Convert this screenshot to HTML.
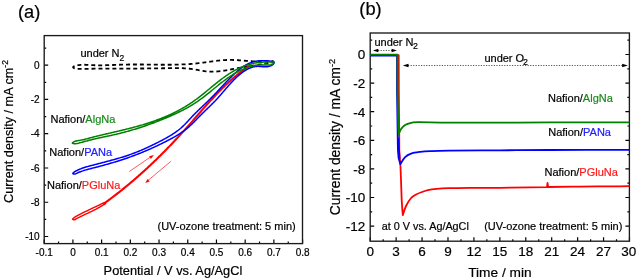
<!DOCTYPE html>
<html><head><meta charset="utf-8"><style>
html,body{margin:0;padding:0;background:#fff;}
svg{display:block;will-change:transform;}
text{font-family:"Liberation Sans", sans-serif;fill:#000;stroke:#000;stroke-width:0.2px;}
.g{fill:#1a8a1a;stroke:#1a8a1a;} .b{fill:#2020ff;stroke:#2020ff;} .r{fill:#ff1a1a;stroke:#ff1a1a;}
</style></head><body>
<svg width="637" height="279" viewBox="0 0 637 279">
<rect width="637" height="279" fill="#fff"/>
<path d="M44.2,65.20h4 M44.2,99.46h4 M44.2,133.72h4 M44.2,167.98h4 M44.2,202.24h4 M44.2,236.50h4 M44.2,48.07h2 M44.2,82.33h2 M44.2,116.59h2 M44.2,150.85h2 M44.2,185.11h2 M44.2,219.37h2 M44.20,243.6v-4 M72.91,243.6v-4 M101.62,243.6v-4 M130.33,243.6v-4 M159.04,243.6v-4 M187.75,243.6v-4 M216.46,243.6v-4 M245.17,243.6v-4 M273.88,243.6v-4 M302.59,243.6v-4 M58.56,243.6v-2 M87.27,243.6v-2 M115.98,243.6v-2 M144.69,243.6v-2 M173.40,243.6v-2 M202.11,243.6v-2 M230.81,243.6v-2 M259.53,243.6v-2 M288.24,243.6v-2" stroke="#000" stroke-width="1.2" fill="none"/>
<rect x="44.2" y="35.6" width="258.30" height="208.00" fill="none" stroke="#1a1a1a" stroke-width="1.35"/>
<text x="39.6" y="68.80" font-size="10" text-anchor="end">0</text>
<text x="39.6" y="103.06" font-size="10" text-anchor="end">-2</text>
<text x="39.6" y="137.32" font-size="10" text-anchor="end">-4</text>
<text x="39.6" y="171.58" font-size="10" text-anchor="end">-6</text>
<text x="39.6" y="205.84" font-size="10" text-anchor="end">-8</text>
<text x="39.6" y="240.10" font-size="10" text-anchor="end">-10</text>
<text x="44.20" y="255.6" font-size="10" text-anchor="middle">-0.1</text>
<text x="72.91" y="255.6" font-size="10" text-anchor="middle">0</text>
<text x="101.62" y="255.6" font-size="10" text-anchor="middle">0.1</text>
<text x="130.33" y="255.6" font-size="10" text-anchor="middle">0.2</text>
<text x="159.04" y="255.6" font-size="10" text-anchor="middle">0.3</text>
<text x="187.75" y="255.6" font-size="10" text-anchor="middle">0.4</text>
<text x="216.46" y="255.6" font-size="10" text-anchor="middle">0.5</text>
<text x="245.17" y="255.6" font-size="10" text-anchor="middle">0.6</text>
<text x="273.88" y="255.6" font-size="10" text-anchor="middle">0.7</text>
<text x="302.59" y="255.6" font-size="10" text-anchor="middle">0.8</text>
<text x="103.6" y="274.5" font-size="12.8">Potential / V vs. Ag/AgCl</text>
<text transform="translate(13.1,203.0) rotate(-90)" font-size="12.7">Current density / mA cm<tspan font-size="8.5" dy="-5">-2</tspan></text>
<text x="17.9" y="18.4" font-size="18.3">(a)</text>
<text x="80.4" y="56.8" font-size="11">under N<tspan font-size="8.5" dy="3.9">2</tspan></text>
<text x="50.5" y="123.3" font-size="11">Nafion/<tspan class="g">AlgNa</tspan></text>
<text x="49.3" y="156.3" font-size="11">Nafion/<tspan class="b">PANa</tspan></text>
<text x="47.0" y="188.6" font-size="11">Nafion/<tspan class="r">PGluNa</tspan></text>
<text x="157.5" y="229.6" font-size="11">(UV-ozone treatment: 5 min)</text>
<path d="M73.14,67.31 L73.19,66.96 L73.49,66.63 L74.01,66.32 L74.69,66.03 L75.51,65.77 L76.41,65.54 L77.35,65.33 L78.29,65.16 L79.21,65.03 L80.11,64.92 L80.98,64.84 L81.83,64.78 L82.67,64.75 L83.49,64.74 L84.29,64.74 L85.09,64.76 L85.87,64.79 L86.65,64.83 L87.41,64.87 L88.18,64.92 L88.94,64.98 L89.70,65.03 L90.46,65.08 L91.23,65.12 L92.00,65.16 L92.77,65.19 L93.54,65.22 L94.31,65.25 L95.09,65.27 L95.87,65.28 L96.65,65.30 L97.43,65.31 L98.22,65.31 L99.00,65.32 L99.79,65.32 L100.58,65.31 L101.37,65.31 L102.16,65.30 L102.96,65.29 L103.75,65.28 L104.55,65.26 L105.35,65.24 L106.15,65.22 L106.95,65.20 L107.75,65.18 L108.56,65.15 L109.36,65.13 L110.16,65.10 L110.97,65.07 L111.78,65.04 L112.58,65.01 L113.39,64.98 L114.20,64.95 L115.01,64.92 L115.82,64.89 L116.63,64.86 L117.43,64.83 L118.24,64.80 L119.05,64.77 L119.86,64.74 L120.67,64.72 L121.48,64.69 L122.29,64.66 L123.10,64.64 L123.91,64.62 L124.72,64.60 L125.53,64.58 L126.34,64.56 L127.14,64.55 L127.95,64.53 L128.76,64.52 L129.56,64.51 L130.37,64.50 L131.17,64.49 L131.98,64.49 L132.78,64.48 L133.59,64.48 L134.39,64.48 L135.19,64.47 L136.00,64.48 L136.80,64.48 L137.60,64.48 L138.40,64.48 L139.21,64.49 L140.01,64.49 L140.81,64.50 L141.61,64.50 L142.41,64.51 L143.21,64.52 L144.01,64.53 L144.81,64.54 L145.61,64.54 L146.41,64.55 L147.21,64.56 L148.01,64.57 L148.81,64.58 L149.60,64.60 L150.40,64.61 L151.20,64.62 L152.00,64.63 L152.79,64.64 L153.59,64.65 L154.39,64.66 L155.19,64.67 L155.98,64.68 L156.78,64.69 L157.58,64.70 L158.37,64.70 L159.17,64.71 L159.97,64.72 L160.76,64.73 L161.56,64.73 L162.36,64.74 L163.15,64.74 L163.95,64.75 L164.74,64.75 L165.54,64.75 L166.33,64.75 L167.13,64.75 L167.93,64.75 L168.72,64.74 L169.52,64.74 L170.31,64.73 L171.11,64.73 L171.91,64.72 L172.70,64.71 L173.50,64.70 L174.29,64.68 L175.09,64.67 L175.89,64.65 L176.68,64.63 L177.48,64.61 L178.27,64.59 L179.07,64.56 L179.87,64.54 L180.66,64.51 L181.46,64.48 L182.26,64.44 L183.05,64.41 L183.85,64.37 L184.65,64.33 L185.45,64.29 L186.24,64.24 L187.04,64.19 L187.84,64.14 L188.64,64.09 L189.44,64.04 L190.24,63.98 L191.03,63.92 L191.83,63.85 L192.63,63.78 L193.43,63.71 L194.23,63.64 L195.03,63.56 L195.83,63.48 L196.63,63.40 L197.43,63.31 L198.24,63.22 L199.04,63.13 L199.84,63.03 L200.64,62.94 L201.44,62.83 L202.25,62.73 L203.05,62.63 L203.85,62.52 L204.65,62.41 L205.46,62.30 L206.26,62.19 L207.06,62.08 L207.86,61.97 L208.66,61.86 L209.46,61.75 L210.27,61.64 L211.07,61.53 L211.87,61.42 L212.67,61.31 L213.47,61.21 L214.27,61.11 L215.07,61.01 L215.86,60.91 L216.66,60.81 L217.46,60.72 L218.26,60.63 L219.05,60.55 L219.85,60.47 L220.64,60.39 L221.43,60.32 L222.22,60.26 L223.02,60.19 L223.81,60.14 L224.60,60.09 L225.38,60.04 L226.17,60.01 L226.96,59.97 L227.74,59.95 L228.53,59.93 L229.31,59.92 L230.09,59.92 L230.87,59.92 L231.65,59.94 L232.43,59.95 L233.21,59.98 L233.98,60.01 L234.76,60.04 L235.54,60.08 L236.32,60.12 L237.10,60.17 L237.88,60.22 L238.66,60.27 L239.44,60.33 L240.22,60.39 L241.00,60.45 L241.79,60.51 L242.58,60.58 L243.37,60.64 L244.16,60.71 L244.95,60.77 L245.75,60.84 L246.55,60.91 L247.35,60.97 L248.15,61.03 L248.96,61.09 L249.77,61.15 L250.59,61.21 L251.41,61.26 L252.23,61.31 L253.06,61.35 L253.89,61.39 L254.72,61.43 L255.56,61.46 L256.41,61.49 L257.26,61.51 L258.12,61.53 L258.98,61.53 L259.85,61.54 L260.72,61.53 L261.60,61.52 L262.49,61.50 L263.38,61.47 L264.28,61.43 L265.18,61.38 L266.10,61.32 L267.01,61.26 L267.91,61.19 L268.79,61.13 L269.63,61.08 L270.42,61.04 L271.14,61.02 L271.77,61.04 L272.31,61.08 L272.74,61.17 L273.04,61.31 L273.20,61.48 L273.18,61.67 L273.00,61.85 L272.66,62.04 L272.19,62.22 L271.60,62.40 L270.90,62.58 L270.12,62.76 L269.27,62.93 L268.37,63.10 L267.43,63.27 L266.48,63.43 L265.52,63.59 L264.58,63.75 L263.66,63.90 L262.74,64.05 L261.84,64.20 L260.95,64.34 L260.07,64.48 L259.21,64.62 L258.35,64.76 L257.51,64.89 L256.67,65.02 L255.84,65.15 L255.02,65.28 L254.21,65.40 L253.41,65.53 L252.61,65.65 L251.82,65.77 L251.04,65.90 L250.26,66.02 L249.49,66.14 L248.72,66.26 L247.95,66.38 L247.19,66.50 L246.43,66.62 L245.67,66.75 L244.92,66.87 L244.17,67.00 L243.41,67.12 L242.66,67.25 L241.90,67.38 L241.15,67.51 L240.39,67.64 L239.64,67.78 L238.88,67.92 L238.11,68.06 L237.35,68.20 L236.58,68.35 L235.80,68.50 L235.03,68.65 L234.25,68.80 L233.47,68.95 L232.68,69.10 L231.89,69.25 L231.10,69.40 L230.31,69.55 L229.52,69.70 L228.72,69.85 L227.93,70.00 L227.13,70.14 L226.33,70.28 L225.52,70.41 L224.72,70.54 L223.92,70.67 L223.11,70.79 L222.31,70.90 L221.50,71.01 L220.69,71.12 L219.89,71.21 L219.08,71.30 L218.27,71.38 L217.47,71.46 L216.66,71.52 L215.85,71.58 L215.05,71.62 L214.25,71.66 L213.44,71.68 L212.64,71.70 L211.84,71.70 L211.04,71.70 L210.24,71.68 L209.44,71.64 L208.65,71.60 L207.86,71.54 L207.06,71.47 L206.28,71.38 L205.49,71.29 L204.70,71.19 L203.92,71.07 L203.13,70.95 L202.35,70.83 L201.57,70.69 L200.78,70.56 L200.00,70.42 L199.22,70.27 L198.44,70.13 L197.66,69.98 L196.88,69.84 L196.09,69.70 L195.31,69.56 L194.53,69.42 L193.74,69.29 L192.95,69.17 L192.17,69.05 L191.38,68.94 L190.59,68.84 L189.80,68.74 L189.00,68.66 L188.21,68.58 L187.41,68.50 L186.61,68.44 L185.82,68.38 L185.02,68.32 L184.22,68.28 L183.42,68.24 L182.61,68.20 L181.81,68.17 L181.01,68.14 L180.20,68.12 L179.40,68.10 L178.59,68.09 L177.79,68.08 L176.98,68.07 L176.17,68.07 L175.37,68.07 L174.56,68.07 L173.75,68.08 L172.94,68.08 L172.14,68.09 L171.33,68.11 L170.52,68.12 L169.71,68.13 L168.91,68.15 L168.10,68.16 L167.29,68.18 L166.48,68.20 L165.68,68.21 L164.87,68.23 L164.07,68.25 L163.26,68.26 L162.46,68.27 L161.65,68.29 L160.85,68.30 L160.05,68.32 L159.25,68.33 L158.44,68.34 L157.64,68.35 L156.84,68.36 L156.04,68.37 L155.24,68.38 L154.44,68.39 L153.64,68.40 L152.84,68.41 L152.04,68.42 L151.24,68.43 L150.44,68.44 L149.65,68.45 L148.85,68.45 L148.05,68.46 L147.25,68.47 L146.46,68.47 L145.66,68.48 L144.86,68.49 L144.07,68.49 L143.27,68.50 L142.48,68.50 L141.68,68.51 L140.88,68.51 L140.09,68.51 L139.29,68.52 L138.50,68.52 L137.70,68.53 L136.91,68.53 L136.11,68.53 L135.32,68.53 L134.52,68.54 L133.73,68.54 L132.93,68.54 L132.14,68.55 L131.34,68.55 L130.55,68.55 L129.75,68.55 L128.96,68.55 L128.16,68.56 L127.37,68.56 L126.57,68.56 L125.78,68.56 L124.98,68.56 L124.19,68.56 L123.39,68.57 L122.59,68.57 L121.80,68.57 L121.00,68.57 L120.21,68.57 L119.41,68.58 L118.61,68.58 L117.82,68.58 L117.02,68.58 L116.22,68.58 L115.42,68.59 L114.63,68.59 L113.83,68.59 L113.03,68.59 L112.23,68.60 L111.43,68.60 L110.63,68.60 L109.83,68.61 L109.03,68.61 L108.23,68.61 L107.43,68.62 L106.63,68.62 L105.83,68.62 L105.02,68.63 L104.22,68.63 L103.42,68.64 L102.61,68.64 L101.81,68.65 L101.01,68.66 L100.20,68.66 L99.40,68.67 L98.59,68.67 L97.78,68.68 L96.98,68.69 L96.17,68.70 L95.36,68.70 L94.55,68.71 L93.74,68.72 L92.93,68.73 L92.12,68.74 L91.31,68.75 L90.50,68.76 L89.68,68.77 L88.87,68.78 L88.06,68.80 L87.24,68.81 L86.42,68.82 L85.61,68.83 L84.79,68.85 L83.97,68.86 L83.15,68.88 L82.34,68.89 L81.52,68.91 L80.69,68.93 L79.87,68.94 L79.05,68.96 L78.23,68.96 L77.43,68.95 L76.64,68.89 L75.87,68.78 L75.14,68.61 L74.44,68.36 L73.83,68.04 L73.37,67.68 Z" stroke="#000" stroke-width="1.8" fill="none" stroke-dasharray="3.972 2.979" stroke-dashoffset="1.986"/>
<path d="M72.50,219.10 C72.50,218.68 73.58,217.93 74.50,217.30 C75.42,216.67 75.75,216.45 78.00,215.30 C80.25,214.15 84.67,212.02 88.00,210.40 C91.33,208.78 95.50,206.80 98.00,205.60 C100.50,204.40 101.75,203.73 103.00,203.20 C104.25,202.67 105.13,202.30 105.50,202.40 C105.87,202.50 105.62,203.33 105.20,203.80 C104.78,204.27 104.20,204.48 103.00,205.20 C101.80,205.92 100.50,206.77 98.00,208.10 C95.50,209.43 91.33,211.58 88.00,213.20 C84.67,214.82 80.25,216.70 78.00,217.80 C75.75,218.90 75.42,219.58 74.50,219.80 C73.58,220.02 72.50,219.52 72.50,219.10Z" stroke="#ff0000" stroke-width="1.45" fill="none"/>
<path d="M104.01,203.51 L104.83,202.92 L105.65,202.32 L106.47,201.73 L107.29,201.13 L108.11,200.53 L108.92,199.93 L109.74,199.33 L110.55,198.72 L111.36,198.11 L112.17,197.51 L112.97,196.90 L113.78,196.28 L114.58,195.67 L115.38,195.06 L116.18,194.44 L116.98,193.82 L117.77,193.20 L118.57,192.58 L119.36,191.95 L120.15,191.33 L120.94,190.70 L121.73,190.07 L122.52,189.44 L123.30,188.81 L124.09,188.17 L124.87,187.54 L125.65,186.90 L126.43,186.26 L127.21,185.62 L127.98,184.98 L128.76,184.34 L129.53,183.69 L130.30,183.04 L131.07,182.39 L131.84,181.74 L132.60,181.09 L133.37,180.44 L134.13,179.78 L134.89,179.13 L135.66,178.47 L136.41,177.81 L137.17,177.15 L137.93,176.49 L138.68,175.82 L139.44,175.15 L140.19,174.49 L140.94,173.82 L141.69,173.15 L142.44,172.48 L143.18,171.80 L143.93,171.13 L144.67,170.45 L145.41,169.77 L146.15,169.09 L146.89,168.41 L147.63,167.73 L148.37,167.05 L149.10,166.36 L149.83,165.68 L150.57,164.99 L151.30,164.30 L152.03,163.61 L152.76,162.91 L153.48,162.22 L154.21,161.53 L154.93,160.83 L155.65,160.13 L156.38,159.43 L157.10,158.73 L157.82,158.03 L158.53,157.33 L159.25,156.62 L159.97,155.92 L160.68,155.21 L161.39,154.50 L162.10,153.79 L162.81,153.08 L163.52,152.36 L164.23,151.65 L164.94,150.94 L165.64,150.22 L166.35,149.50 L167.05,148.78 L167.75,148.06 L168.45,147.34 L169.15,146.62 L169.85,145.89 L170.55,145.17 L171.24,144.44 L171.94,143.71 L172.63,142.98 L173.32,142.25 L174.01,141.52 L174.70,140.79 L175.39,140.05 L176.08,139.32 L176.77,138.58 L177.45,137.84 L178.14,137.10 L178.82,136.36 L179.50,135.62 L180.18,134.88 L180.86,134.13 L181.54,133.39 L182.22,132.64 L182.90,131.90 L183.57,131.15 L184.25,130.40 L184.92,129.65 L185.59,128.90 L186.26,128.14 L186.93,127.39 L187.60,126.64 L188.27,125.88 L188.94,125.12 L189.61,124.37 L190.28,123.61 L190.94,122.85 L191.61,122.09 L192.27,121.33 L192.94,120.57 L193.60,119.81 L194.26,119.05 L194.93,118.29 L195.59,117.53 L196.26,116.77 L196.92,116.01 L197.58,115.24 L198.25,114.48 L198.91,113.72 L199.57,112.96 L200.24,112.20 L200.90,111.44 L201.57,110.68 L202.23,109.93 L202.90,109.17 L203.57,108.41 L204.24,107.66 L204.90,106.90 L205.57,106.15 L206.24,105.40 L206.91,104.64 L207.59,103.89 L208.26,103.14 L208.93,102.40 L209.61,101.65 L210.29,100.90 L210.97,100.16 L211.65,99.42 L212.33,98.68 L213.01,97.94 L213.69,97.21 L214.38,96.47 L215.07,95.74 L215.76,95.01 L216.45,94.28 L217.14,93.56 L217.84,92.83 L218.54,92.11 L219.24,91.39 L219.94,90.68 L220.64,89.96 L221.35,89.25 L222.06,88.54 L222.77,87.84 L223.49,87.14 L224.20,86.44 L224.92,85.74 L225.65,85.05 L226.37,84.36 L227.10,83.67 L227.83,82.99 L228.56,82.31 L229.30,81.63 L230.04,80.96 L230.78,80.29 L231.53,79.63 L232.28,78.96 L233.03,78.31 L233.79,77.65 L234.55,77.00 L235.32,76.36 L236.08,75.72 L236.86,75.08 L237.63,74.45 L238.41,73.82 L239.19,73.19 L239.98,72.57 L240.77,71.96 L241.57,71.35 L242.37,70.74 L243.17,70.14 L243.98,69.55 L244.79,68.95 L245.61,68.37 L246.43,67.79 L247.25,67.21 L248.08,66.64 L248.92,66.08 L249.76,65.52 L250.60,64.96" stroke="#ff0000" stroke-width="2.1" fill="none" stroke-linecap="round"/>
<path d="M250,65.2 C258,63.9 266,63.6 273,62.9" stroke="#ff4040" stroke-width="0.7" fill="none" stroke-dasharray="2 3" opacity="0.8"/>
<path d="M72.90,173.67 L72.96,173.26 L73.29,172.79 L73.81,172.29 L74.46,171.83 L75.19,171.39 L75.95,170.99 L76.72,170.60 L77.49,170.23 L78.26,169.87 L79.02,169.54 L79.79,169.21 L80.55,168.90 L81.31,168.61 L82.07,168.32 L82.83,168.05 L83.59,167.79 L84.35,167.53 L85.11,167.29 L85.87,167.06 L86.63,166.83 L87.39,166.61 L88.15,166.39 L88.91,166.18 L89.67,165.97 L90.43,165.77 L91.19,165.56 L91.96,165.36 L92.72,165.16 L93.49,164.96 L94.26,164.76 L95.02,164.56 L95.79,164.36 L96.56,164.17 L97.33,163.97 L98.10,163.77 L98.88,163.57 L99.65,163.37 L100.42,163.17 L101.20,162.97 L101.97,162.77 L102.75,162.57 L103.53,162.36 L104.30,162.16 L105.08,161.96 L105.86,161.75 L106.63,161.55 L107.41,161.34 L108.19,161.14 L108.97,160.93 L109.74,160.72 L110.52,160.51 L111.30,160.30 L112.07,160.09 L112.85,159.87 L113.63,159.66 L114.40,159.44 L115.18,159.22 L115.95,159.00 L116.73,158.78 L117.50,158.55 L118.28,158.33 L119.05,158.10 L119.82,157.87 L120.59,157.64 L121.36,157.40 L122.13,157.17 L122.90,156.93 L123.67,156.69 L124.44,156.44 L125.20,156.20 L125.97,155.95 L126.73,155.69 L127.49,155.44 L128.25,155.18 L129.01,154.92 L129.77,154.66 L130.52,154.39 L131.28,154.12 L132.03,153.85 L132.78,153.57 L133.53,153.30 L134.28,153.01 L135.02,152.73 L135.77,152.44 L136.51,152.15 L137.25,151.85 L137.99,151.56 L138.73,151.25 L139.47,150.95 L140.20,150.64 L140.94,150.34 L141.67,150.02 L142.41,149.71 L143.14,149.39 L143.87,149.07 L144.59,148.75 L145.32,148.42 L146.05,148.10 L146.78,147.77 L147.50,147.43 L148.22,147.10 L148.95,146.76 L149.67,146.42 L150.39,146.08 L151.11,145.74 L151.83,145.39 L152.55,145.04 L153.27,144.69 L153.99,144.34 L154.71,143.98 L155.42,143.63 L156.14,143.27 L156.86,142.91 L157.57,142.55 L158.29,142.18 L159.00,141.82 L159.72,141.45 L160.43,141.08 L161.15,140.71 L161.86,140.33 L162.57,139.96 L163.29,139.58 L164.00,139.20 L164.71,138.82 L165.41,138.43 L166.12,138.04 L166.82,137.65 L167.52,137.25 L168.22,136.85 L168.92,136.45 L169.61,136.04 L170.30,135.62 L170.99,135.21 L171.67,134.78 L172.35,134.35 L173.02,133.92 L173.69,133.48 L174.36,133.04 L175.02,132.59 L175.68,132.13 L176.33,131.67 L176.97,131.20 L177.61,130.72 L178.25,130.24 L178.88,129.74 L179.50,129.25 L180.11,128.74 L180.72,128.23 L181.32,127.71 L181.92,127.18 L182.51,126.64 L183.09,126.09 L183.66,125.54 L184.23,124.98 L184.80,124.42 L185.35,123.84 L185.91,123.27 L186.46,122.69 L187.01,122.11 L187.56,121.52 L188.10,120.94 L188.64,120.35 L189.19,119.76 L189.73,119.16 L190.27,118.57 L190.81,117.98 L191.36,117.39 L191.90,116.81 L192.45,116.22 L193.00,115.64 L193.55,115.06 L194.11,114.49 L194.66,113.92 L195.23,113.35 L195.79,112.79 L196.36,112.22 L196.93,111.66 L197.50,111.11 L198.07,110.55 L198.64,110.00 L199.22,109.44 L199.80,108.89 L200.37,108.34 L200.95,107.79 L201.53,107.24 L202.11,106.70 L202.69,106.15 L203.27,105.60 L203.85,105.05 L204.44,104.50 L205.01,103.95 L205.59,103.40 L206.17,102.85 L206.75,102.30 L207.32,101.74 L207.90,101.18 L208.47,100.62 L209.04,100.06 L209.61,99.50 L210.18,98.93 L210.74,98.36 L211.31,97.79 L211.87,97.21 L212.43,96.64 L212.99,96.06 L213.55,95.48 L214.10,94.90 L214.66,94.32 L215.21,93.73 L215.77,93.15 L216.32,92.56 L216.87,91.98 L217.42,91.39 L217.97,90.80 L218.52,90.21 L219.07,89.62 L219.62,89.03 L220.17,88.44 L220.72,87.85 L221.27,87.26 L221.82,86.67 L222.37,86.08 L222.92,85.50 L223.47,84.91 L224.02,84.32 L224.57,83.74 L225.12,83.15 L225.68,82.57 L226.23,81.99 L226.79,81.41 L227.35,80.83 L227.90,80.26 L228.46,79.68 L229.02,79.11 L229.59,78.54 L230.15,77.97 L230.72,77.41 L231.29,76.85 L231.86,76.29 L232.43,75.73 L233.00,75.18 L233.58,74.63 L234.16,74.08 L234.74,73.54 L235.33,73.00 L235.91,72.47 L236.50,71.94 L237.10,71.42 L237.70,70.90 L238.30,70.39 L238.91,69.89 L239.52,69.39 L240.13,68.90 L240.76,68.42 L241.38,67.95 L242.02,67.49 L242.66,67.04 L243.30,66.60 L243.96,66.18 L244.62,65.76 L245.28,65.36 L245.96,64.97 L246.64,64.59 L247.33,64.23 L248.03,63.88 L248.74,63.55 L249.45,63.23 L250.18,62.93 L250.92,62.64 L251.66,62.37 L252.42,62.12 L253.18,61.89 L253.96,61.68 L254.74,61.48 L255.54,61.31 L256.35,61.15 L257.17,61.02 L258.01,60.91 L258.85,60.81 L259.71,60.74 L260.57,60.69 L261.43,60.66 L262.30,60.64 L263.17,60.64 L264.03,60.65 L264.89,60.68 L265.75,60.72 L266.59,60.77 L267.42,60.83 L268.24,60.90 L269.04,60.98 L269.82,61.06 L270.58,61.16 L271.31,61.25 L272.02,61.35 L272.70,61.46 L273.31,61.60 L273.79,61.80 L274.09,62.11 L274.16,62.56 L273.99,63.13 L273.61,63.75 L273.08,64.34 L272.42,64.88 L271.67,65.35 L270.86,65.75 L270.02,66.08 L269.18,66.34 L268.34,66.54 L267.50,66.67 L266.66,66.76 L265.81,66.80 L264.98,66.80 L264.14,66.77 L263.31,66.72 L262.48,66.66 L261.65,66.59 L260.83,66.52 L260.01,66.45 L259.20,66.40 L258.39,66.37 L257.60,66.36 L256.80,66.39 L256.02,66.46 L255.24,66.55 L254.47,66.67 L253.71,66.83 L252.95,67.01 L252.20,67.22 L251.46,67.46 L250.72,67.72 L249.99,68.00 L249.27,68.31 L248.56,68.64 L247.85,68.99 L247.15,69.36 L246.45,69.75 L245.77,70.15 L245.09,70.57 L244.42,71.01 L243.75,71.46 L243.09,71.92 L242.44,72.39 L241.79,72.88 L241.16,73.37 L240.52,73.87 L239.90,74.38 L239.28,74.90 L238.67,75.42 L238.07,75.95 L237.47,76.48 L236.88,77.02 L236.29,77.57 L235.71,78.12 L235.13,78.68 L234.56,79.24 L233.99,79.81 L233.43,80.38 L232.87,80.96 L232.32,81.54 L231.77,82.12 L231.22,82.71 L230.67,83.30 L230.13,83.89 L229.60,84.48 L229.06,85.08 L228.53,85.68 L228.00,86.28 L227.47,86.89 L226.94,87.49 L226.41,88.10 L225.89,88.71 L225.37,89.32 L224.84,89.93 L224.32,90.54 L223.80,91.15 L223.28,91.76 L222.76,92.37 L222.23,92.98 L221.71,93.59 L221.19,94.19 L220.66,94.80 L220.14,95.40 L219.61,96.01 L219.08,96.61 L218.55,97.21 L218.01,97.80 L217.48,98.39 L216.94,98.98 L216.40,99.57 L215.85,100.16 L215.31,100.74 L214.75,101.31 L214.20,101.88 L213.64,102.46 L213.08,103.02 L212.52,103.59 L211.96,104.15 L211.39,104.71 L210.83,105.27 L210.26,105.83 L209.69,106.38 L209.12,106.94 L208.54,107.49 L207.97,108.05 L207.40,108.60 L206.82,109.16 L206.25,109.71 L205.68,110.26 L205.10,110.82 L204.53,111.37 L203.96,111.93 L203.39,112.49 L202.82,113.04 L202.25,113.61 L201.68,114.17 L201.11,114.73 L200.55,115.30 L199.99,115.87 L199.43,116.44 L198.87,117.02 L198.31,117.59 L197.75,118.17 L197.19,118.74 L196.64,119.32 L196.08,119.90 L195.52,120.47 L194.96,121.04 L194.39,121.61 L193.83,122.18 L193.26,122.75 L192.69,123.31 L192.12,123.87 L191.54,124.42 L190.96,124.97 L190.38,125.52 L189.79,126.06 L189.20,126.59 L188.60,127.11 L187.99,127.63 L187.38,128.15 L186.76,128.65 L186.14,129.15 L185.51,129.64 L184.88,130.12 L184.24,130.60 L183.60,131.07 L182.95,131.53 L182.29,131.99 L181.63,132.44 L180.97,132.89 L180.30,133.33 L179.63,133.76 L178.96,134.19 L178.28,134.62 L177.60,135.04 L176.91,135.45 L176.22,135.86 L175.53,136.27 L174.83,136.67 L174.14,137.07 L173.44,137.46 L172.73,137.85 L172.03,138.24 L171.32,138.62 L170.62,139.00 L169.91,139.38 L169.20,139.76 L168.48,140.13 L167.77,140.50 L167.06,140.87 L166.34,141.23 L165.63,141.60 L164.91,141.96 L164.19,142.32 L163.48,142.68 L162.76,143.04 L162.04,143.39 L161.32,143.75 L160.60,144.10 L159.88,144.45 L159.16,144.79 L158.44,145.14 L157.72,145.48 L157.00,145.83 L156.28,146.17 L155.55,146.51 L154.83,146.84 L154.10,147.18 L153.38,147.51 L152.65,147.84 L151.92,148.17 L151.20,148.50 L150.47,148.82 L149.74,149.15 L149.01,149.47 L148.28,149.79 L147.55,150.11 L146.81,150.42 L146.08,150.73 L145.34,151.05 L144.61,151.36 L143.87,151.66 L143.13,151.97 L142.40,152.27 L141.66,152.58 L140.92,152.88 L140.18,153.18 L139.43,153.47 L138.69,153.77 L137.95,154.06 L137.20,154.35 L136.45,154.64 L135.71,154.92 L134.96,155.21 L134.21,155.49 L133.46,155.77 L132.70,156.05 L131.95,156.32 L131.19,156.60 L130.44,156.87 L129.68,157.14 L128.92,157.41 L128.17,157.67 L127.41,157.94 L126.64,158.20 L125.88,158.46 L125.12,158.72 L124.36,158.97 L123.59,159.23 L122.83,159.48 L122.06,159.73 L121.29,159.98 L120.53,160.23 L119.76,160.47 L118.99,160.72 L118.22,160.96 L117.45,161.20 L116.68,161.44 L115.91,161.67 L115.14,161.91 L114.37,162.14 L113.60,162.37 L112.83,162.61 L112.06,162.83 L111.29,163.06 L110.52,163.29 L109.75,163.51 L108.97,163.73 L108.20,163.95 L107.43,164.17 L106.66,164.39 L105.89,164.61 L105.12,164.82 L104.34,165.04 L103.57,165.25 L102.80,165.46 L102.03,165.67 L101.26,165.88 L100.49,166.09 L99.73,166.29 L98.96,166.50 L98.19,166.70 L97.42,166.90 L96.65,167.10 L95.89,167.30 L95.12,167.50 L94.36,167.70 L93.59,167.89 L92.83,168.09 L92.07,168.28 L91.31,168.48 L90.55,168.67 L89.79,168.86 L89.02,169.06 L88.26,169.26 L87.50,169.46 L86.74,169.67 L85.97,169.89 L85.20,170.11 L84.43,170.34 L83.66,170.59 L82.88,170.84 L82.10,171.11 L81.32,171.39 L80.53,171.68 L79.74,171.99 L78.94,172.31 L78.13,172.66 L77.32,173.02 L76.52,173.37 L75.73,173.69 L74.98,173.94 L74.28,174.08 L73.64,174.08 L73.15,173.94 Z" stroke="#0000ff" stroke-width="1.5" fill="none"/>
<path d="M72.37,143.16 L72.54,142.77 L73.06,142.31 L73.77,141.88 L74.54,141.51 L75.32,141.21 L76.11,140.98 L76.92,140.80 L77.73,140.65 L78.54,140.52 L79.36,140.40 L80.17,140.27 L80.98,140.13 L81.78,139.98 L82.57,139.82 L83.36,139.65 L84.15,139.47 L84.93,139.28 L85.71,139.08 L86.49,138.88 L87.26,138.68 L88.03,138.47 L88.81,138.26 L89.58,138.05 L90.35,137.85 L91.12,137.64 L91.90,137.44 L92.67,137.24 L93.44,137.04 L94.22,136.84 L94.99,136.64 L95.77,136.45 L96.54,136.25 L97.32,136.06 L98.09,135.87 L98.87,135.68 L99.64,135.49 L100.42,135.30 L101.19,135.12 L101.97,134.93 L102.75,134.75 L103.52,134.56 L104.30,134.38 L105.08,134.20 L105.85,134.01 L106.63,133.83 L107.41,133.65 L108.19,133.47 L108.96,133.29 L109.74,133.11 L110.52,132.93 L111.30,132.75 L112.08,132.57 L112.85,132.39 L113.63,132.21 L114.41,132.03 L115.19,131.85 L115.96,131.67 L116.74,131.49 L117.52,131.31 L118.30,131.13 L119.08,130.95 L119.85,130.77 L120.63,130.58 L121.41,130.40 L122.19,130.21 L122.96,130.03 L123.74,129.84 L124.52,129.65 L125.29,129.46 L126.07,129.27 L126.85,129.08 L127.62,128.88 L128.40,128.69 L129.17,128.49 L129.95,128.30 L130.73,128.10 L131.50,127.90 L132.28,127.69 L133.05,127.49 L133.83,127.28 L134.60,127.07 L135.37,126.86 L136.15,126.65 L136.92,126.43 L137.69,126.22 L138.46,126.00 L139.24,125.78 L140.01,125.56 L140.78,125.33 L141.55,125.10 L142.32,124.88 L143.09,124.64 L143.85,124.41 L144.62,124.17 L145.39,123.94 L146.15,123.70 L146.92,123.45 L147.68,123.21 L148.45,122.96 L149.21,122.71 L149.97,122.46 L150.73,122.20 L151.49,121.94 L152.25,121.68 L153.01,121.42 L153.77,121.15 L154.52,120.89 L155.28,120.62 L156.03,120.34 L156.79,120.07 L157.54,119.79 L158.29,119.50 L159.04,119.22 L159.79,118.93 L160.53,118.64 L161.28,118.35 L162.02,118.05 L162.76,117.75 L163.51,117.45 L164.25,117.14 L164.98,116.83 L165.72,116.52 L166.46,116.21 L167.19,115.89 L167.92,115.57 L168.66,115.24 L169.39,114.91 L170.11,114.58 L170.84,114.25 L171.56,113.91 L172.29,113.57 L173.01,113.23 L173.73,112.88 L174.45,112.53 L175.16,112.17 L175.87,111.81 L176.59,111.45 L177.30,111.08 L178.01,110.71 L178.71,110.34 L179.42,109.96 L180.12,109.58 L180.82,109.20 L181.52,108.81 L182.21,108.42 L182.91,108.03 L183.60,107.63 L184.29,107.22 L184.98,106.82 L185.66,106.40 L186.34,105.99 L187.03,105.57 L187.70,105.15 L188.38,104.72 L189.05,104.29 L189.73,103.85 L190.39,103.41 L191.06,102.97 L191.73,102.52 L192.39,102.07 L193.05,101.61 L193.70,101.15 L194.36,100.69 L195.01,100.22 L195.66,99.74 L196.30,99.27 L196.95,98.79 L197.59,98.30 L198.23,97.82 L198.87,97.33 L199.51,96.84 L200.15,96.34 L200.78,95.85 L201.42,95.35 L202.05,94.85 L202.68,94.34 L203.31,93.84 L203.94,93.33 L204.56,92.82 L205.19,92.31 L205.82,91.80 L206.44,91.29 L207.07,90.78 L207.69,90.27 L208.31,89.76 L208.94,89.24 L209.56,88.73 L210.18,88.22 L210.81,87.70 L211.43,87.19 L212.05,86.68 L212.68,86.17 L213.30,85.66 L213.92,85.15 L214.55,84.64 L215.17,84.14 L215.80,83.63 L216.43,83.13 L217.05,82.63 L217.68,82.13 L218.31,81.63 L218.94,81.14 L219.58,80.65 L220.21,80.16 L220.85,79.67 L221.48,79.19 L222.12,78.71 L222.76,78.24 L223.40,77.76 L224.05,77.30 L224.69,76.83 L225.34,76.37 L225.99,75.92 L226.64,75.47 L227.30,75.02 L227.95,74.58 L228.61,74.14 L229.28,73.71 L229.94,73.28 L230.61,72.86 L231.28,72.45 L231.95,72.04 L232.63,71.64 L233.31,71.24 L234.00,70.85 L234.68,70.46 L235.37,70.09 L236.07,69.72 L236.76,69.35 L237.47,69.00 L238.17,68.65 L238.88,68.31 L239.59,67.97 L240.31,67.65 L241.03,67.33 L241.76,67.02 L242.49,66.72 L243.23,66.43 L243.97,66.14 L244.71,65.87 L245.46,65.60 L246.21,65.34 L246.97,65.09 L247.73,64.85 L248.49,64.62 L249.26,64.40 L250.03,64.19 L250.81,63.99 L251.58,63.80 L252.37,63.61 L253.15,63.44 L253.94,63.28 L254.74,63.12 L255.54,62.98 L256.34,62.84 L257.14,62.72 L257.95,62.61 L258.76,62.51 L259.57,62.41 L260.39,62.33 L261.21,62.26 L262.03,62.20 L262.85,62.15 L263.68,62.11 L264.51,62.09 L265.34,62.07 L266.18,62.07 L267.01,62.07 L267.85,62.08 L268.67,62.09 L269.49,62.10 L270.31,62.11 L271.11,62.11 L271.90,62.11 L272.67,62.10 L273.34,62.12 L273.78,62.25 L273.86,62.57 L273.61,63.03 L273.10,63.55 L272.44,64.06 L271.72,64.47 L270.97,64.77 L270.19,64.97 L269.39,65.08 L268.58,65.12 L267.76,65.12 L266.92,65.08 L266.08,65.02 L265.24,64.96 L264.41,64.91 L263.57,64.89 L262.74,64.87 L261.91,64.88 L261.09,64.90 L260.27,64.94 L259.45,64.99 L258.63,65.06 L257.82,65.14 L257.02,65.24 L256.21,65.35 L255.41,65.48 L254.62,65.62 L253.83,65.78 L253.04,65.94 L252.26,66.12 L251.48,66.31 L250.71,66.52 L249.94,66.73 L249.17,66.96 L248.41,67.20 L247.65,67.44 L246.90,67.70 L246.15,67.97 L245.41,68.25 L244.67,68.54 L243.94,68.83 L243.21,69.14 L242.48,69.45 L241.76,69.78 L241.05,70.11 L240.34,70.45 L239.63,70.79 L238.93,71.15 L238.23,71.51 L237.53,71.88 L236.84,72.26 L236.15,72.64 L235.47,73.03 L234.79,73.43 L234.11,73.83 L233.44,74.24 L232.77,74.66 L232.10,75.08 L231.43,75.51 L230.77,75.94 L230.11,76.38 L229.45,76.82 L228.80,77.27 L228.15,77.72 L227.50,78.18 L226.85,78.64 L226.20,79.11 L225.56,79.58 L224.92,80.05 L224.28,80.53 L223.64,81.01 L223.00,81.49 L222.37,81.98 L221.73,82.47 L221.10,82.96 L220.47,83.46 L219.84,83.95 L219.21,84.45 L218.58,84.95 L217.95,85.46 L217.33,85.96 L216.70,86.47 L216.07,86.97 L215.45,87.48 L214.82,87.99 L214.20,88.50 L213.57,89.01 L212.95,89.52 L212.32,90.03 L211.69,90.54 L211.07,91.05 L210.44,91.56 L209.81,92.07 L209.19,92.57 L208.56,93.08 L207.93,93.58 L207.30,94.09 L206.66,94.59 L206.03,95.09 L205.40,95.59 L204.76,96.08 L204.12,96.57 L203.48,97.06 L202.84,97.55 L202.20,98.04 L201.56,98.52 L200.91,99.00 L200.26,99.47 L199.61,99.94 L198.96,100.41 L198.30,100.87 L197.64,101.33 L196.98,101.78 L196.32,102.23 L195.65,102.68 L194.98,103.12 L194.31,103.55 L193.64,103.98 L192.96,104.41 L192.28,104.83 L191.60,105.25 L190.91,105.66 L190.23,106.07 L189.54,106.48 L188.85,106.88 L188.15,107.28 L187.46,107.67 L186.76,108.06 L186.06,108.45 L185.36,108.83 L184.66,109.21 L183.95,109.58 L183.24,109.96 L182.53,110.32 L181.82,110.69 L181.11,111.05 L180.40,111.41 L179.68,111.76 L178.96,112.12 L178.24,112.47 L177.52,112.81 L176.80,113.16 L176.08,113.50 L175.35,113.84 L174.63,114.17 L173.90,114.50 L173.17,114.83 L172.44,115.16 L171.71,115.49 L170.98,115.81 L170.24,116.13 L169.51,116.45 L168.77,116.77 L168.04,117.08 L167.30,117.39 L166.56,117.70 L165.83,118.01 L165.09,118.32 L164.35,118.62 L163.61,118.93 L162.87,119.23 L162.12,119.53 L161.38,119.83 L160.64,120.13 L159.90,120.42 L159.15,120.71 L158.41,121.01 L157.66,121.30 L156.92,121.58 L156.17,121.87 L155.43,122.16 L154.68,122.44 L153.93,122.72 L153.18,123.00 L152.43,123.28 L151.68,123.55 L150.93,123.83 L150.18,124.10 L149.43,124.37 L148.68,124.64 L147.92,124.91 L147.17,125.17 L146.42,125.44 L145.66,125.70 L144.91,125.96 L144.15,126.22 L143.39,126.47 L142.64,126.73 L141.88,126.98 L141.12,127.23 L140.36,127.48 L139.60,127.73 L138.84,127.97 L138.08,128.21 L137.32,128.45 L136.56,128.69 L135.79,128.93 L135.03,129.16 L134.27,129.40 L133.50,129.63 L132.73,129.86 L131.97,130.08 L131.20,130.31 L130.43,130.53 L129.66,130.75 L128.89,130.97 L128.12,131.19 L127.35,131.40 L126.58,131.61 L125.81,131.82 L125.04,132.03 L124.26,132.24 L123.49,132.44 L122.72,132.64 L121.94,132.84 L121.16,133.04 L120.39,133.23 L119.61,133.43 L118.83,133.62 L118.05,133.81 L117.27,133.99 L116.49,134.18 L115.71,134.36 L114.93,134.54 L114.14,134.72 L113.36,134.89 L112.58,135.07 L111.79,135.24 L111.01,135.41 L110.22,135.58 L109.44,135.75 L108.65,135.92 L107.87,136.09 L107.08,136.25 L106.30,136.42 L105.51,136.59 L104.73,136.75 L103.94,136.92 L103.16,137.09 L102.37,137.25 L101.59,137.42 L100.81,137.59 L100.03,137.76 L99.24,137.93 L98.46,138.10 L97.68,138.27 L96.90,138.44 L96.13,138.62 L95.35,138.80 L94.57,138.97 L93.80,139.16 L93.02,139.34 L92.25,139.53 L91.48,139.71 L90.71,139.90 L89.94,140.10 L89.18,140.30 L88.41,140.50 L87.64,140.70 L86.88,140.90 L86.11,141.11 L85.34,141.32 L84.57,141.53 L83.80,141.74 L83.02,141.96 L82.24,142.17 L81.46,142.39 L80.67,142.61 L79.87,142.82 L79.07,143.04 L78.26,143.24 L77.44,143.42 L76.61,143.57 L75.78,143.68 L74.94,143.73 L74.09,143.72 L73.27,143.63 L72.65,143.45 Z" stroke="#008000" stroke-width="1.5" fill="none"/>
<path d="M129.3,171.5 L150.5,157 M170.8,161.4 L147.8,180.6" stroke="#ff3030" stroke-width="0.8" fill="none"/>
<path d="M153.80,155.10 L150.95,158.93 L149.17,156.27Z" fill="#ff0000"/>
<path d="M145.20,183.10 L147.62,178.98 L149.67,181.43Z" fill="#ff0000"/>
<path d="M370.2,54.50h4 M629.4,54.50h-4 M370.2,83.10h4 M629.4,83.10h-4 M370.2,111.70h4 M629.4,111.70h-4 M370.2,140.30h4 M629.4,140.30h-4 M370.2,168.90h4 M629.4,168.90h-4 M370.2,197.50h4 M629.4,197.50h-4 M370.2,226.10h4 M629.4,226.10h-4 M370.2,40.20h2 M629.4,40.20h-2 M370.2,68.80h2 M629.4,68.80h-2 M370.2,97.40h2 M629.4,97.40h-2 M370.2,126.00h2 M629.4,126.00h-2 M370.2,154.60h2 M629.4,154.60h-2 M370.2,183.20h2 M629.4,183.20h-2 M370.2,211.80h2 M629.4,211.80h-2 M370.20,241.2v-4 M396.13,241.2v-4 M422.06,241.2v-4 M447.99,241.2v-4 M473.92,241.2v-4 M499.85,241.2v-4 M525.77,241.2v-4 M551.70,241.2v-4 M577.63,241.2v-4 M603.56,241.2v-4 M629.49,241.2v-4 M383.16,241.2v-2 M409.09,241.2v-2 M435.02,241.2v-2 M460.95,241.2v-2 M486.88,241.2v-2 M512.81,241.2v-2 M538.74,241.2v-2 M564.67,241.2v-2 M590.60,241.2v-2 M616.53,241.2v-2" stroke="#000" stroke-width="1.2" fill="none"/>
<rect x="370.2" y="33.0" width="259.20" height="208.20" fill="none" stroke="#1a1a1a" stroke-width="1.35"/>
<text x="365.2" y="59.30" font-size="13.5" text-anchor="end">0</text>
<text x="365.2" y="87.90" font-size="13.5" text-anchor="end">-2</text>
<text x="365.2" y="116.50" font-size="13.5" text-anchor="end">-4</text>
<text x="365.2" y="145.10" font-size="13.5" text-anchor="end">-6</text>
<text x="365.2" y="173.70" font-size="13.5" text-anchor="end">-8</text>
<text x="365.2" y="202.30" font-size="13.5" text-anchor="end">-10</text>
<text x="365.2" y="230.90" font-size="13.5" text-anchor="end">-12</text>
<text x="370.20" y="256.3" font-size="13.5" text-anchor="middle">0</text>
<text x="396.13" y="256.3" font-size="13.5" text-anchor="middle">3</text>
<text x="422.06" y="256.3" font-size="13.5" text-anchor="middle">6</text>
<text x="447.99" y="256.3" font-size="13.5" text-anchor="middle">9</text>
<text x="473.92" y="256.3" font-size="13.5" text-anchor="middle">12</text>
<text x="499.85" y="256.3" font-size="13.5" text-anchor="middle">15</text>
<text x="525.77" y="256.3" font-size="13.5" text-anchor="middle">18</text>
<text x="551.70" y="256.3" font-size="13.5" text-anchor="middle">21</text>
<text x="577.63" y="256.3" font-size="13.5" text-anchor="middle">24</text>
<text x="603.56" y="256.3" font-size="13.5" text-anchor="middle">27</text>
<text x="628.79" y="256.3" font-size="13.5" text-anchor="middle">30</text>
<text x="468.2" y="277.3" font-size="13.7">Time / min</text>
<text transform="translate(340.4,215.3) rotate(-90)" font-size="13.9">Current density / mA cm<tspan font-size="9.2" dy="-5.5">-2</tspan></text>
<text x="359.3" y="14.5" font-size="18.3">(b)</text>
<text x="374.4" y="46.2" font-size="11">under N<tspan font-size="8.8" dx="-0.5" dy="2.8">2</tspan></text>
<text x="484.4" y="61.8" font-size="11">under O<tspan font-size="8.8" dx="-1.2" dy="3.3">2</tspan></text>
<text x="548.0" y="102.1" font-size="11">Nafion/<tspan class="g">AlgNa</tspan></text>
<text x="548.2" y="135.7" font-size="11">Nafion/<tspan class="b">PANa</tspan></text>
<text x="544.5" y="175.7" font-size="11">Nafion/<tspan class="r">PGluNa</tspan></text>
<text x="381.8" y="230.3" font-size="10.8">at 0 V vs. Ag/AgCl</text>
<text x="484.2" y="229.7" font-size="11">(UV-ozone treatment: 5 min)</text>
<path d="M378,50.5 H392" stroke="#555" stroke-width="1" stroke-dasharray="1.2 1.4" fill="none"/>
<path d="M373.00,50.50 L378.30,48.80 L378.30,52.20Z" fill="#000"/>
<path d="M396.90,50.50 L391.60,52.20 L391.60,48.80Z" fill="#000"/>
<path d="M408,65.5 H622" stroke="#555" stroke-width="1" stroke-dasharray="1.2 1.4" fill="none"/>
<path d="M402.80,65.50 L408.50,63.70 L408.50,67.30Z" fill="#000"/>
<path d="M627.80,65.50 L622.10,67.30 L622.10,63.70Z" fill="#000"/>
<path d="M370.20,55.20 L398.70,55.20 L398.80,90.00 L399.20,130.00 L399.30,150.00 L400.00,160.00 L400.50,167.00 L401.00,180.00 L401.70,200.00 L402.20,208.00 L402.80,215.10 L402.80,215.10 C403.33,213.58 404.62,208.85 406.00,206.00 C407.38,203.15 409.42,199.92 411.10,198.00 C412.78,196.08 414.28,195.50 416.10,194.50 C417.92,193.50 420.02,192.73 422.00,192.00 C423.98,191.27 425.57,190.62 428.00,190.10 C430.43,189.58 433.10,189.22 436.60,188.90 C440.10,188.58 443.43,188.37 449.00,188.20 C454.57,188.03 461.50,187.97 470.00,187.90 C478.50,187.83 490.00,187.90 500.00,187.80 C510.00,187.70 522.17,187.42 530.00,187.30 C537.83,187.18 544.17,187.13 547.00,187.10 L547.5,183.0 L548.2,187 L548.60,187.00 C553.83,186.93 568.10,186.72 580.00,186.60 C591.90,186.48 611.75,186.38 620.00,186.30 C628.25,186.22 627.92,186.13 629.50,186.10" stroke="#ff0000" stroke-width="1.8" fill="none" stroke-linejoin="round"/>
<path d="M370.20,55.50 L397.00,55.50 L397.00,90.00 L397.60,130.00 L397.90,150.00 L398.60,158.10 L400.30,164.10 L400.30,164.10 C401.10,162.93 403.30,158.85 405.10,157.10 C406.90,155.35 408.58,154.47 411.10,153.60 C413.62,152.73 417.02,152.32 420.20,151.90 C423.38,151.48 425.40,151.32 430.20,151.10 C435.00,150.88 437.37,150.73 449.00,150.60 C460.63,150.47 483.17,150.40 500.00,150.30 C516.83,150.20 528.42,150.08 550.00,150.00 C571.58,149.92 616.25,149.83 629.50,149.80" stroke="#0000ff" stroke-width="1.8" fill="none" stroke-linejoin="round"/>
<path d="M398.4,138 L399.0,150 L399.4,158.5" stroke="#0000ff" stroke-width="1.8" fill="none"/>
<path d="M370.20,54.70 L397.50,54.70 L397.40,60.00 L397.50,90.00 L398.20,125.00 L398.70,134.30 L398.70,134.30 C399.10,133.43 400.03,130.65 401.10,129.10 C402.17,127.55 403.43,126.05 405.10,125.00 C406.77,123.95 408.92,123.27 411.10,122.80 C413.28,122.33 411.88,122.23 418.20,122.20 C424.52,122.17 435.37,122.53 449.00,122.60 C462.63,122.67 483.17,122.63 500.00,122.60 C516.83,122.57 528.42,122.45 550.00,122.40 C571.58,122.35 616.25,122.32 629.50,122.30" stroke="#008000" stroke-width="1.8" fill="none" stroke-linejoin="round"/>
</svg>
</body></html>
